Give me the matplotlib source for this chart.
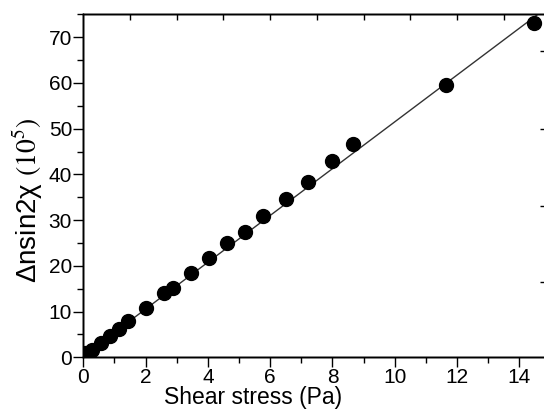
import matplotlib.pyplot as plt
import numpy as np

# data
stress = [0.05, 0.27, 0.56, 0.86, 1.14, 1.43, 2.01, 2.60, 2.89, 3.47, 4.04,
          4.62, 5.20, 5.78, 6.51, 7.22, 7.97, 8.67, 11.64, 14.47]
dn = [0.9, 1.6, 3.2, 4.7, 6.2, 7.9, 10.7, 14.1, 15.1, 18.5, 21.8,
      24.9, 27.5, 30.9, 34.6, 38.4, 43.0, 46.6, 59.6, 73.2]

# linear fit line
slope = 5.12
intercept = 0.3
fit_x = np.array([0.0, 14.6])

right_ticks = [16.4, 33.2, 50.0, 66.9]
top_ticks = [1.5, 3, 4.5, 6, 7.5, 9, 10.5, 12, 13.5]

plt.rcParams['font.family'] = ['Liberation Sans', 'DejaVu Sans']
plt.rcParams['mathtext.fontset'] = 'stix'

fig = plt.figure(figsize=(5.44, 4.09), dpi=100)
ax = fig.add_axes([0.153, 0.1264, 0.859, 0.8384])

ax.plot(fit_x, slope * fit_x + intercept, color='#333333', lw=1.0, zorder=2)
ax.plot(stress, dn, 'o', color='black', markersize=10, zorder=3)

ax.set_xlim(0, 15)
ax.set_ylim(0, 75)
ax.set_xticks(np.arange(0, 15, 2))
ax.set_xticks(np.arange(0, 16, 1), minor=True)
ax.set_yticks(np.arange(0, 71, 10))
ax.set_yticks(np.arange(0, 76, 5), minor=True)
ax.tick_params(axis='both', which='major', direction='out', length=7, width=1,
               labelsize=15, pad=1)
ax.tick_params(axis='both', which='minor', direction='out', length=4, width=1)
ax.tick_params(top=False, right=False, which='both')

# extra ticks on top and right edges
ax_t = ax.twiny()
ax_t.set_xlim(0, 15)
ax_t.set_xticks(top_ticks)
ax_t.tick_params(axis='x', direction='in', length=4, width=1, labeltop=False)
ax_r = ax.twinx()
ax_r.set_ylim(0, 75)
ax_r.set_yticks(right_ticks)
ax_r.tick_params(axis='y', direction='in', length=8, width=1, labelright=False)

for a in (ax, ax_t, ax_r):
    for s in a.spines.values():
        s.set_linewidth(1.0)

ax.set_xlabel('Shear stress (Pa)', fontsize=16.5)
ax.xaxis.set_label_coords(0.364, -0.083)
ax.set_ylabel('Δnsin2χ $\\mathrm{(10^{5})}$', fontsize=20)
ax.yaxis.set_label_coords(-0.082, 0.459)

fig.savefig('out.png', dpi=100)
